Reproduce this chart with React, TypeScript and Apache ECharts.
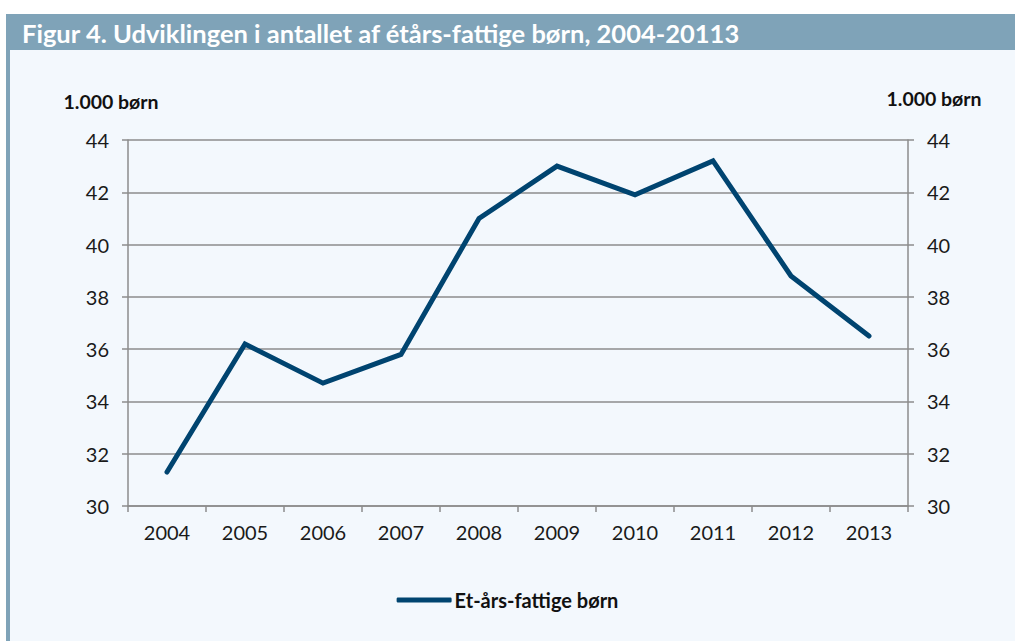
import React, { useEffect, useRef } from "react";
import * as echarts from "echarts";

const years = ["2004", "2005", "2006", "2007", "2008", "2009", "2010", "2011", "2012", "2013"];
const poorChildren = [31.3, 36.2, 34.7, 35.8, 41.0, 43.0, 41.9, 43.2, 38.8, 36.5];
const seriesName = "Et-års-fattige børn";
const titleText = "Figur 4. Udviklingen i antallet af étårs-fattige børn, 2004-20113";
const unitText = "1.000 børn";

const FONT = "Lato, 'Open Sans', sans-serif";
const GRID_COLOR = "#8c8c8c";
const LINE_COLOR = "#004470";

export default function App() {
  const ref = useRef<HTMLDivElement>(null);
  useEffect(() => {
    if (!ref.current) return;
    const chart = echarts.init(ref.current, undefined, { renderer: "svg" });
    const yAxisCommon = {
      type: "value",
      min: 30,
      max: 44,
      interval: 2,
      axisLine: { show: true, lineStyle: { color: GRID_COLOR, width: 1.5 } },
      axisTick: { show: true, length: 6, lineStyle: { color: GRID_COLOR, width: 1.5 } },
      axisLabel: { color: "#1a1a1a", fontSize: 20, fontFamily: FONT, margin: 19 },
    };
    chart.setOption({
      animation: false,
      backgroundColor: "#ffffff",
      textStyle: { fontFamily: FONT },
      graphic: [
        { type: "rect", z: -10, shape: { x: 10, y: 50, width: 1005, height: 591 }, style: { fill: "#f3f8fd" } },
        { type: "rect", z: -10, shape: { x: 6, y: 14, width: 4, height: 627 }, style: { fill: "#7fa3b8" } },
        { type: "rect", z: -10, shape: { x: 6, y: 14, width: 1009, height: 36 }, style: { fill: "#7fa3b8" } },
        {
          type: "text",
          x: 22,
          y: 33,
          style: { text: titleText, fill: "#ffffff", font: `bold 25.5px ${FONT}`, textVerticalAlign: "middle" },
        },
        {
          type: "text",
          x: 111,
          y: 101,
          style: { text: unitText, fill: "#111111", font: `bold 19.5px ${FONT}`, textAlign: "center", textVerticalAlign: "middle" },
        },
        {
          type: "text",
          x: 934,
          y: 98,
          style: { text: unitText, fill: "#111111", font: `bold 19.5px ${FONT}`, textAlign: "center", textVerticalAlign: "middle" },
        },
      ],
      legend: {
        show: true,
        bottom: 26,
        left: "center",
        itemWidth: 55,
        itemHeight: 5,
        itemGap: 4,
        icon: "roundRect",
        textStyle: { fontSize: 20, fontWeight: "bold", color: "#111111", fontFamily: FONT, padding: [0, 0, 0, -2] },
        data: [seriesName],
      },
      grid: { left: 128, right: 107, top: 140, bottom: 135, containLabel: false },
      xAxis: {
        type: "category",
        data: years,
        boundaryGap: true,
        axisLine: { show: true, lineStyle: { color: GRID_COLOR, width: 1.5 } },
        axisTick: { show: true, length: 6, lineStyle: { color: GRID_COLOR, width: 1.5 } },
        axisLabel: { color: "#1a1a1a", fontSize: 20, fontFamily: FONT, margin: 16 },
      },
      yAxis: [
        {
          ...yAxisCommon,
          position: "left",
          splitLine: { show: true, lineStyle: { color: GRID_COLOR, width: 1.5 } },
        },
        {
          ...yAxisCommon,
          position: "right",
          splitLine: { show: false },
        },
      ],
      series: [
        {
          name: seriesName,
          type: "line",
          data: poorChildren,
          yAxisIndex: 0,
          symbol: "none",
          lineStyle: { color: LINE_COLOR, width: 5, cap: "round", join: "miter" },
          itemStyle: { color: LINE_COLOR },
        },
      ],
    });
    return () => chart.dispose();
  }, []);
  return (
    <div
      ref={ref}
      style={{ position: "absolute", left: 0, top: 0, width: 1015, height: 641 }}
    />
  );
}
